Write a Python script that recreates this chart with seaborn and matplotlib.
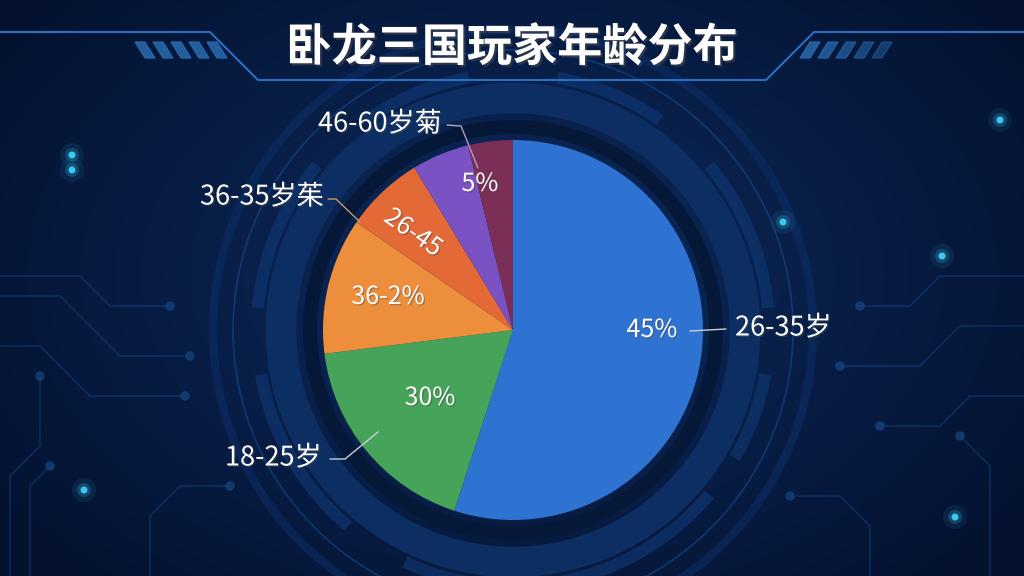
import numpy as np
import pandas as pd
import seaborn as sns
import matplotlib
matplotlib.use("Agg")
import matplotlib.pyplot as plt
from matplotlib.patches import Wedge, Circle
import matplotlib.patheffects as pe

# ---------------- data ----------------
title = "卧龙三国玩家年龄分布"
groups = ["26-35岁", "18-25岁", "36-2%", "26-45", "46-60岁菊", "5%"]
# wedge shares as drawn in the picture (clockwise from 12 o'clock)
shares = [55.0, 18.0, 11.6, 6.7, 4.9, 3.8]
inner_labels = ["45%", "30%", "36-2%", "26-45", "", "5%"]
outer_labels = ["26-35岁", "18-25岁", "36-35岁茱", "46-60岁菊"]
colors = ["#2e72d2", "#45a35a", "#ec8e3b", "#e36a36", "#7b52c3", "#7b2f56"]

df = pd.DataFrame({"group": groups, "share": shares})

# ---------------- style ----------------
sns.set_theme(style="dark")
plt.rcParams["font.family"] = ["Noto Sans CJK SC", "DejaVu Sans"]

W, H = 1024, 576
fig = plt.figure(figsize=(W / 100, H / 100), dpi=100)
ax = fig.add_axes([0, 0, 1, 1])
ax.set_xlim(0, W)
ax.set_ylim(0, H)
ax.set_aspect("equal")
ax.axis("off")

# background radial gradient
yy, xx = np.mgrid[0:H, 0:W]
d = np.sqrt(((xx - 512) / 620) ** 2 + ((yy - 300) / 420) ** 2)
d = np.clip(d, 0, 1)
c_in = np.array([0x0c, 0x2b, 0x5e]) / 255
c_out = np.array([0x04, 0x12, 0x30]) / 255
img = c_in[None, None, :] * (1 - d[..., None]) + c_out[None, None, :] * d[..., None]
ax.imshow(img, extent=[0, W, 0, H], origin="lower", zorder=0)

cx, cy, R = 513, 576 - 330, 190

# decorative rings behind the pie
ax.add_patch(Circle((cx, cy), 232, facecolor="none", edgecolor="#0d2e63", lw=22, zorder=1))
ax.add_patch(Circle((cx, cy), 203, facecolor="none", edgecolor="#061838", lw=10, zorder=1))
for a0, a1 in [(5, 40), (55, 80), (100, 125), (140, 175), (190, 230), (245, 262), (280, 320), (330, 350)]:
    ax.add_patch(Wedge((cx, cy), 262, a0, a1, width=12, facecolor="#0f3570", edgecolor="none", alpha=0.7, zorder=1))
ax.add_patch(Circle((cx, cy), 280, facecolor="none", edgecolor="#174a8c", lw=1.2, alpha=0.6, zorder=1))
ax.add_patch(Circle((cx, cy), 300, facecolor="none", edgecolor="#0e3270", lw=6, alpha=0.45, zorder=1))

# circuit-like lines
circuit = [
    [(0, 300), (80, 300), (110, 270), (170, 270)],
    [(0, 280), (60, 280), (120, 220), (190, 220)],
    [(0, 230), (40, 230), (90, 180), (185, 180)],
    [(10, 0), (10, 100), (40, 130), (40, 200)],
    [(30, 0), (30, 90), (50, 110)],
    [(1024, 300), (940, 300), (910, 270), (860, 270)],
    [(1024, 250), (960, 250), (920, 210), (840, 210)],
    [(1024, 180), (970, 180), (940, 150), (880, 150)],
    [(990, 0), (990, 110), (960, 140)],
    [(150, 0), (150, 60), (180, 90), (230, 90)],
    [(870, 0), (870, 50), (840, 80), (790, 80)],
]
for pts in circuit:
    xs, ys = zip(*pts)
    ax.plot(xs, ys, color="#164481", lw=1, alpha=0.6, zorder=1)
    ax.add_patch(Circle(pts[-1], 4, color="#164481", alpha=0.7, zorder=1))

# glowing dots
for gx, gy in [(72, 576 - 155), (72, 576 - 170), (783, 576 - 222), (942, 576 - 256),
               (84, 576 - 490), (955, 576 - 517), (1000, 576 - 120)]:
    for r, a in [(12, 0.08), (7, 0.2), (3.5, 0.9)]:
        ax.add_patch(Circle((gx, gy), r, color="#3fd6ff", alpha=a, lw=0, zorder=2))

# title banner
ax.plot([0, 210, 258, 766, 814, 1024], [576 - 32, 576 - 32, 576 - 80, 576 - 80, 576 - 32, 576 - 32],
        color="#2a6fc0", lw=1.5, zorder=2)
for i in range(5):
    x0 = 135 + i * 18
    ax.fill([x0, x0 + 10, x0 + 20, x0 + 10], [576 - 42, 576 - 42, 576 - 58, 576 - 58],
            color="#2a6aae", alpha=0.85, zorder=2)
    x1 = 800 + i * 18
    ax.fill([x1 + 10, x1 + 20, x1 + 10, x1], [576 - 42, 576 - 42, 576 - 58, 576 - 58],
            color="#2a6aae", alpha=0.85 - i * 0.1, zorder=2)

ax.text(512, 576 - 48, title, color="white", fontsize=32.5, fontweight="bold",
        ha="center", va="center", zorder=5,
        path_effects=[pe.withSimplePatchShadow(offset=(1.5, -1.5), alpha=0.5)])

# pie
wedges, _ = ax.pie(df["share"], colors=colors, startangle=90, counterclock=False,
                   center=(cx, cy), radius=R, frame=True,
                   wedgeprops=dict(edgecolor="none", zorder=3))
for w in wedges:
    w.set_zorder(3)
ax.set_xlim(0, W)
ax.set_ylim(0, H)
ax.axis("off")

shadow = [pe.withSimplePatchShadow(offset=(1, -1), alpha=0.4)]
txt = dict(color="white", fontsize=18, ha="center", va="center", zorder=6, path_effects=shadow)

ax.text(652, 576 - 330, inner_labels[0], **txt)
ax.text(430, 576 - 398, inner_labels[1], **txt)
ax.text(388, 576 - 297, inner_labels[2], **txt)
ax.text(413, 576 - 233, inner_labels[3], rotation=-35, **txt)
ax.text(480, 576 - 184, inner_labels[5], **txt)

otxt = dict(color="white", fontsize=19.5, va="center", zorder=6, path_effects=shadow)
ax.text(735, 576 - 328, outer_labels[0], ha="left", **otxt)
ax.text(225, 576 - 458, outer_labels[1], ha="left", **otxt)
ax.text(200, 576 - 197, outer_labels[2], ha="left", **otxt)
ax.text(318, 576 - 124, outer_labels[3], ha="left", **otxt)

lc = dict(color="#c8cfd8", lw=1, zorder=6)
ax.plot([690, 726], [576 - 331, 576 - 329], **lc)
ax.plot([330, 345, 378], [576 - 459, 576 - 459, 576 - 432], **lc)
ax.plot([328, 336, 360], [576 - 199, 576 - 199, 576 - 222], color="#c89a6a", lw=1, zorder=6)
ax.plot([447, 461, 478], [576 - 125, 576 - 126, 576 - 168], color="#b0a0c0", lw=1, zorder=6)

fig.savefig("out.png", dpi=100, facecolor="#061636")
